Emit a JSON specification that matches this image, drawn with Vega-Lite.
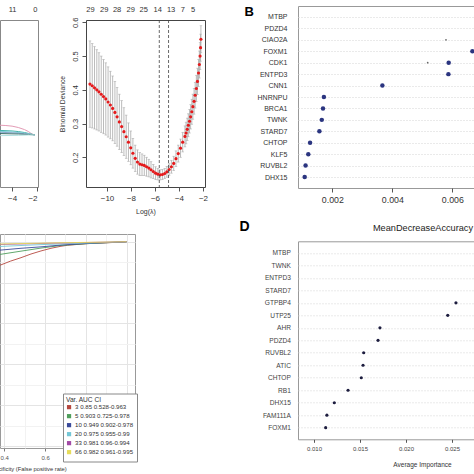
{
  "$schema": "https://vega.github.io/schema/vega-lite/v6.json",
  "padding": {"left": -26, "right": -4, "top": 4, "bottom": 0},
  "background": "white",
  "config": {
    "font": "Liberation Sans",
    "view": {"stroke": "#666"},
    "axis": {"labelFont": "Liberation Sans", "titleFont": "Liberation Sans", "labelColor": "#333", "titleColor": "#333", "tickColor": "#555", "titleFontWeight": "normal", "domain": false, "grid": false},
    "title": {"font": "Liberation Sans", "fontWeight": "normal"},
    "legend": {"symbolSize": 4, "symbolStrokeWidth": 2.2}
  },
  "datasets": {
    "coef": [
      {"l": -4.97, "v": 0.092, "g": "g1"}, {"l": -4.5, "v": 0.089, "g": "g1"}, {"l": -4.0, "v": 0.083, "g": "g1"}, {"l": -3.5, "v": 0.07, "g": "g1"}, {"l": -3.0, "v": 0.05, "g": "g1"}, {"l": -2.7, "v": 0.032, "g": "g1"}, {"l": -2.5, "v": 0.016, "g": "g1"}, {"l": -2.3, "v": 0.002, "g": "g1"}, {"l": -2.18, "v": 0, "g": "g1"},
      {"l": -4.97, "v": 0.042, "g": "g2"}, {"l": -4.0, "v": 0.037, "g": "g2"}, {"l": -3.5, "v": 0.031, "g": "g2"}, {"l": -3.0, "v": 0.022, "g": "g2"}, {"l": -2.6, "v": 0.011, "g": "g2"}, {"l": -2.3, "v": 0.002, "g": "g2"}, {"l": -2.18, "v": 0, "g": "g2"},
      {"l": -4.97, "v": 0.033, "g": "g3"}, {"l": -4.0, "v": 0.028, "g": "g3"}, {"l": -3.0, "v": 0.016, "g": "g3"}, {"l": -2.5, "v": 0.006, "g": "g3"}, {"l": -2.18, "v": 0, "g": "g3"},
      {"l": -4.97, "v": 0.024, "g": "g4"}, {"l": -4.0, "v": 0.02, "g": "g4"}, {"l": -3.0, "v": 0.011, "g": "g4"}, {"l": -2.5, "v": 0.004, "g": "g4"}, {"l": -2.18, "v": 0, "g": "g4"},
      {"l": -4.97, "v": 0.012, "g": "g5"}, {"l": -3.5, "v": 0.008, "g": "g5"}, {"l": -2.7, "v": 0.003, "g": "g5"}, {"l": -2.18, "v": 0, "g": "g5"},
      {"l": -4.97, "v": -0.008, "g": "g6"}, {"l": -3.5, "v": -0.005, "g": "g6"}, {"l": -2.6, "v": -0.001, "g": "g6"}, {"l": -2.18, "v": 0, "g": "g6"}
    ],
    "cv": [
      {"l": -11.42, "m": 0.417, "lo": 0.289, "hi": 0.545},
      {"l": -11.23, "m": 0.412, "lo": 0.287, "hi": 0.537},
      {"l": -11.04, "m": 0.406, "lo": 0.284, "hi": 0.528},
      {"l": -10.85, "m": 0.400, "lo": 0.281, "hi": 0.519},
      {"l": -10.67, "m": 0.394, "lo": 0.278, "hi": 0.510},
      {"l": -10.48, "m": 0.387, "lo": 0.274, "hi": 0.500},
      {"l": -10.29, "m": 0.380, "lo": 0.270, "hi": 0.490},
      {"l": -10.10, "m": 0.373, "lo": 0.266, "hi": 0.480},
      {"l": -9.91, "m": 0.364, "lo": 0.260, "hi": 0.468},
      {"l": -9.72, "m": 0.355, "lo": 0.255, "hi": 0.455},
      {"l": -9.53, "m": 0.345, "lo": 0.249, "hi": 0.441},
      {"l": -9.34, "m": 0.333, "lo": 0.241, "hi": 0.425},
      {"l": -9.16, "m": 0.320, "lo": 0.233, "hi": 0.407},
      {"l": -8.97, "m": 0.305, "lo": 0.223, "hi": 0.387},
      {"l": -8.78, "m": 0.291, "lo": 0.214, "hi": 0.368},
      {"l": -8.59, "m": 0.276, "lo": 0.205, "hi": 0.347},
      {"l": -8.40, "m": 0.261, "lo": 0.197, "hi": 0.325},
      {"l": -8.21, "m": 0.245, "lo": 0.188, "hi": 0.302},
      {"l": -8.02, "m": 0.228, "lo": 0.178, "hi": 0.278},
      {"l": -7.84, "m": 0.212, "lo": 0.168, "hi": 0.256},
      {"l": -7.65, "m": 0.197, "lo": 0.158, "hi": 0.236},
      {"l": -7.46, "m": 0.186, "lo": 0.150, "hi": 0.222},
      {"l": -7.27, "m": 0.180, "lo": 0.146, "hi": 0.214},
      {"l": -7.08, "m": 0.178, "lo": 0.146, "hi": 0.210},
      {"l": -6.89, "m": 0.176, "lo": 0.146, "hi": 0.206},
      {"l": -6.70, "m": 0.172, "lo": 0.144, "hi": 0.200},
      {"l": -6.51, "m": 0.168, "lo": 0.142, "hi": 0.194},
      {"l": -6.33, "m": 0.163, "lo": 0.139, "hi": 0.187},
      {"l": -6.14, "m": 0.158, "lo": 0.137, "hi": 0.179},
      {"l": -5.95, "m": 0.153, "lo": 0.134, "hi": 0.172},
      {"l": -5.76, "m": 0.150, "lo": 0.133, "hi": 0.167},
      {"l": -5.57, "m": 0.148, "lo": 0.133, "hi": 0.163},
      {"l": -5.38, "m": 0.149, "lo": 0.134, "hi": 0.164},
      {"l": -5.19, "m": 0.152, "lo": 0.137, "hi": 0.167},
      {"l": -5.01, "m": 0.157, "lo": 0.141, "hi": 0.173},
      {"l": -4.82, "m": 0.164, "lo": 0.147, "hi": 0.181},
      {"l": -4.63, "m": 0.172, "lo": 0.153, "hi": 0.191},
      {"l": -4.44, "m": 0.182, "lo": 0.161, "hi": 0.203},
      {"l": -4.25, "m": 0.196, "lo": 0.173, "hi": 0.219},
      {"l": -4.06, "m": 0.211, "lo": 0.186, "hi": 0.236},
      {"l": -3.87, "m": 0.227, "lo": 0.200, "hi": 0.254},
      {"l": -3.69, "m": 0.245, "lo": 0.216, "hi": 0.274},
      {"l": -3.50, "m": 0.262, "lo": 0.231, "hi": 0.293},
      {"l": -3.41, "m": 0.272, "lo": 0.240, "hi": 0.304},
      {"l": -3.31, "m": 0.283, "lo": 0.250, "hi": 0.316},
      {"l": -3.22, "m": 0.295, "lo": 0.261, "hi": 0.329},
      {"l": -3.12, "m": 0.307, "lo": 0.272, "hi": 0.342},
      {"l": -3.03, "m": 0.320, "lo": 0.284, "hi": 0.356},
      {"l": -2.93, "m": 0.335, "lo": 0.298, "hi": 0.372},
      {"l": -2.84, "m": 0.350, "lo": 0.313, "hi": 0.387},
      {"l": -2.74, "m": 0.366, "lo": 0.328, "hi": 0.404},
      {"l": -2.65, "m": 0.384, "lo": 0.346, "hi": 0.422},
      {"l": -2.55, "m": 0.404, "lo": 0.365, "hi": 0.443},
      {"l": -2.46, "m": 0.425, "lo": 0.386, "hi": 0.464},
      {"l": -2.37, "m": 0.450, "lo": 0.410, "hi": 0.490},
      {"l": -2.30, "m": 0.475, "lo": 0.435, "hi": 0.515},
      {"l": -2.24, "m": 0.500, "lo": 0.460, "hi": 0.540},
      {"l": -2.20, "m": 0.525, "lo": 0.485, "hi": 0.565},
      {"l": -2.17, "m": 0.550, "lo": 0.510, "hi": 0.590}
    ],
    "cvmin": [{"l": -5.64}, {"l": -4.87}],
    "roc": [
      {"fpr": 0.379, "tpr": 0.885, "var": "3 0.85 0.528-0.963"}, {"fpr": 0.43, "tpr": 0.905, "var": "3 0.85 0.528-0.963"}, {"fpr": 0.482, "tpr": 0.922, "var": "3 0.85 0.528-0.963"}, {"fpr": 0.531, "tpr": 0.94, "var": "3 0.85 0.528-0.963"}, {"fpr": 0.58, "tpr": 0.955, "var": "3 0.85 0.528-0.963"}, {"fpr": 0.629, "tpr": 0.968, "var": "3 0.85 0.528-0.963"}, {"fpr": 0.678, "tpr": 0.978, "var": "3 0.85 0.528-0.963"}, {"fpr": 0.711, "tpr": 0.983, "var": "3 0.85 0.528-0.963"}, {"fpr": 0.809, "tpr": 0.991, "var": "3 0.85 0.528-0.963"}, {"fpr": 0.923, "tpr": 0.996, "var": "3 0.85 0.528-0.963"}, {"fpr": 1.0, "tpr": 1.0, "var": "3 0.85 0.528-0.963"},
      {"fpr": 0.379, "tpr": 0.938, "var": "5 0.903 0.725-0.978"}, {"fpr": 0.482, "tpr": 0.954, "var": "5 0.903 0.725-0.978"}, {"fpr": 0.58, "tpr": 0.969, "var": "5 0.903 0.725-0.978"}, {"fpr": 0.678, "tpr": 0.982, "var": "5 0.903 0.725-0.978"}, {"fpr": 0.809, "tpr": 0.991, "var": "5 0.903 0.725-0.978"}, {"fpr": 1.0, "tpr": 1.0, "var": "5 0.903 0.725-0.978"},
      {"fpr": 0.379, "tpr": 0.959, "var": "10 0.949 0.902-0.978"}, {"fpr": 0.482, "tpr": 0.968, "var": "10 0.949 0.902-0.978"}, {"fpr": 0.58, "tpr": 0.975, "var": "10 0.949 0.902-0.978"}, {"fpr": 0.678, "tpr": 0.984, "var": "10 0.949 0.902-0.978"}, {"fpr": 0.809, "tpr": 0.992, "var": "10 0.949 0.902-0.978"}, {"fpr": 1.0, "tpr": 1.0, "var": "10 0.949 0.902-0.978"},
      {"fpr": 0.379, "tpr": 0.977, "var": "20 0.975 0.955-0.99"}, {"fpr": 0.58, "tpr": 0.986, "var": "20 0.975 0.955-0.99"}, {"fpr": 0.809, "tpr": 0.994, "var": "20 0.975 0.955-0.99"}, {"fpr": 1.0, "tpr": 1.0, "var": "20 0.975 0.955-0.99"},
      {"fpr": 0.379, "tpr": 0.987, "var": "33 0.981 0.96-0.994"}, {"fpr": 0.678, "tpr": 0.994, "var": "33 0.981 0.96-0.994"}, {"fpr": 1.0, "tpr": 1.0, "var": "33 0.981 0.96-0.994"},
      {"fpr": 0.379, "tpr": 0.989, "var": "66 0.982 0.961-0.995"}, {"fpr": 0.678, "tpr": 0.995, "var": "66 0.982 0.961-0.995"}, {"fpr": 1.0, "tpr": 1.0, "var": "66 0.982 0.961-0.995"}
    ],
    "impB": [
      {"gene": "MTBP", "v": 0.0080}, {"gene": "PDZD4", "v": 0.0076}, {"gene": "CIAO2A", "v": 0.0072}, {"gene": "FOXM1", "v": 0.00667},
      {"gene": "CDK1", "v": 0.00588}, {"gene": "ENTPD3", "v": 0.00587}, {"gene": "CNN1", "v": 0.00367}, {"gene": "HNRNPU", "v": 0.00172},
      {"gene": "BRCA1", "v": 0.00169}, {"gene": "TWNK", "v": 0.00165}, {"gene": "STARD7", "v": 0.00157}, {"gene": "CHTOP", "v": 0.00126},
      {"gene": "KLF5", "v": 0.0012}, {"gene": "RUVBL2", "v": 0.00111}, {"gene": "DHX15", "v": 0.00108}
    ],
    "impBsmall": [{"gene": "CIAO2A", "v": 0.00579}, {"gene": "CDK1", "v": 0.00518}],
    "impD": [
      {"gene": "MTBP", "v": 0.036}, {"gene": "TWNK", "v": 0.033}, {"gene": "ENTPD3", "v": 0.031}, {"gene": "STARD7", "v": 0.029},
      {"gene": "GTPBP4", "v": 0.02543}, {"gene": "UTP25", "v": 0.02454}, {"gene": "AHR", "v": 0.01717}, {"gene": "PDZD4", "v": 0.01696},
      {"gene": "RUVBL2", "v": 0.0154}, {"gene": "ATIC", "v": 0.01533}, {"gene": "CHTOP", "v": 0.01514}, {"gene": "RB1", "v": 0.0137},
      {"gene": "DHX15", "v": 0.01221}, {"gene": "FAM111A", "v": 0.0114}, {"gene": "FOXM1", "v": 0.01127}
    ],
    "blank": []
  },
  "spacing": 29,
  "resolve": {"scale": {"color": "independent"}},
  "hconcat": [
    {
      "spacing": 18,
      "resolve": {"scale": {"color": "independent"}},
      "vconcat": [
        {
          "spacing": -2,
          "vconcat": [
            {
              "width": 1, "height": 1,
              "view": {"stroke": null},
              "data": {"name": "blank"},
              "mark": {"type": "point", "opacity": 0},
              "encoding": {}
            },
            {
              "spacing": 19,
              "hconcat": [
                {
                  "width": 38, "height": 167,
                  "view": {"stroke": "#888"},
                  "data": {"name": "coef"},
                  "layer": [
                    {
                      "mark": {"type": "line", "strokeWidth": 1, "clip": true},
                      "encoding": {
                        "x": {"field": "l", "type": "quantitative", "scale": {"domain": [-4.97, -1.92], "nice": false, "zero": false},
                              "axis": {"values": [-4, -2], "tickSize": 4, "labelPadding": 3, "labelFontSize": 8, "title": null}},
                        "y": {"field": "v", "type": "quantitative", "scale": {"domain": [-0.5, 1.1], "nice": false, "zero": false},
                              "axis": {"labels": false, "ticks": false, "title": null, "minExtent": 25, "maxExtent": 25}},
                        "color": {"field": "g", "type": "nominal", "legend": null,
                                  "scale": {"domain": ["g1", "g2", "g3", "g4", "g5", "g6"], "range": ["#e39bb5", "#3fb0a8", "#7fd0d8", "#8aa6c8", "#3a6e6a", "#b0e0e0"]}}
                      }
                    },
                    {
                      "mark": {"type": "point", "opacity": 0},
                      "encoding": {
                        "x": {"field": "l", "type": "quantitative", "scale": {"domain": [-4.97, -1.92], "nice": false, "zero": false},
                              "axis": {"orient": "top", "values": [-4, -2], "ticks": false, "labelPadding": 6.5, "labelFontSize": 7.5, "title": null, "labelExpr": "datum.value < -3 ? '11' : '0'"}},
                        "y": {"field": "v", "type": "quantitative", "scale": {"domain": [-0.5, 1.1], "nice": false, "zero": false},
                              "axis": {"labels": false, "ticks": false, "title": null, "minExtent": 25, "maxExtent": 25}}
                      }
                    }
                  ],
                  "resolve": {"axis": {"x": "independent"}}
                },
                {
                  "width": 119, "height": 167,
                  "view": {"stroke": "#444"},
                  "layer": [
                    {
                      "data": {"name": "cv"},
                      "mark": {"type": "errorbar", "color": "#a9a9a9", "thickness": 0.8, "ticks": {"size": 2.5, "color": "#a9a9a9"}},
                      "encoding": {
                        "x": {"field": "l", "type": "quantitative", "scale": {"domain": [-11.75, -1.83], "nice": false, "zero": false},
                              "axis": {"values": [-10, -8, -6, -4, -2], "tickSize": 4, "labelPadding": 3, "labelFontSize": 8, "title": "Log(λ)", "titleFontSize": 7, "titlePadding": 5}},
                        "y": {"field": "lo", "type": "quantitative", "scale": {"domain": [0.112, 0.607], "nice": false, "zero": false},
                              "axis": {"values": [0.2, 0.3, 0.4, 0.5, 0.6], "format": ".1f", "title": "Binomial Deviance", "labelAngle": -90, "labelAlign": "center", "labelBaseline": "bottom", "tickSize": 4, "labelPadding": 3, "labelFontSize": 7.5, "titleFontSize": 6.8, "titlePadding": 6}},
                        "y2": {"field": "hi"}
                      }
                    },
                    {
                      "data": {"name": "cv"},
                      "mark": {"type": "circle", "size": 10, "color": "#e41a1c", "opacity": 1},
                      "encoding": {
                        "x": {"field": "l", "type": "quantitative", "scale": {"domain": [-11.75, -1.83], "nice": false, "zero": false},
                              "axis": {"orient": "top", "values": [-11.42, -10.28, -9.2, -8.06, -6.98, -5.81, -4.7, -3.72, -2.86], "ticks": false, "labelPadding": 6.5, "labelFontSize": 7.5, "title": null,
                                       "labelExpr": "datum.value < -11 ? '29' : datum.value < -10 ? '29' : datum.value < -9 ? '28' : datum.value < -7.5 ? '29' : datum.value < -6.5 ? '25' : datum.value < -5.5 ? '14' : datum.value < -4.2 ? '13' : datum.value < -3.3 ? '7' : '5'"}},
                        "y": {"field": "m", "type": "quantitative", "scale": {"domain": [0.112, 0.607], "nice": false, "zero": false},
                              "axis": {"values": [0.2, 0.3, 0.4, 0.5, 0.6], "format": ".1f", "title": "Binomial Deviance", "labelAngle": -90, "labelAlign": "center", "labelBaseline": "bottom", "tickSize": 4, "labelPadding": 3, "labelFontSize": 7.5, "titleFontSize": 6.8, "titlePadding": 6}}
                      }
                    },
                    {
                      "data": {"name": "cvmin"},
                      "mark": {"type": "rule", "strokeDash": [3, 2], "color": "#444", "strokeWidth": 0.8},
                      "encoding": {
                        "x": {"field": "l", "type": "quantitative", "scale": {"domain": [-11.75, -1.83], "nice": false, "zero": false}, "axis": null}
                      }
                    }
                  ],
                  "resolve": {"axis": {"x": "independent"}}
                }
              ]
            }
          ]
        },
        {
          "width": 135, "height": 214,
          "view": {"stroke": "#999"},
          "data": {"name": "roc"},
          "mark": {"type": "line", "strokeWidth": 0.9, "clip": true},
          "encoding": {
            "x": {"field": "fpr", "type": "quantitative", "scale": {"domain": [0.379, 1.041], "nice": false, "zero": false},
                  "axis": {"values": [0.4, 0.5, 0.6, 0.7, 0.8, 0.9, 1.0], "format": ".1f", "grid": true,
                           "gridColor": {"condition": {"test": "round(datum.value * 10) % 2 == 0", "value": "#e4e4e4"}, "value": "#f2f2f2"},
                           "tickOpacity": {"condition": {"test": "round(datum.value * 10) % 2 == 0", "value": 1}, "value": 0},
                           "labelExpr": "round(datum.value * 10) % 2 == 0 ? datum.label : ''",
                           "tickSize": 3, "tickColor": "#777", "labelFontSize": 6, "labelPadding": 3.5, "labelColor": "#555",
                           "title": "1 - Specificity (False positive rate)", "titleFontSize": 5.8, "titleX": 22.7, "titlePadding": 4.5}},
            "y": {"field": "tpr", "type": "quantitative", "scale": {"domain": [-0.01, 1.038], "nice": false, "zero": false},
                  "axis": {"values": [0, 0.1, 0.2, 0.3, 0.4, 0.5, 0.6, 0.7, 0.8, 0.9, 1.0], "grid": true,
                           "gridColor": {"condition": {"test": "round(datum.value * 10) % 2 == 0", "value": "#e4e4e4"}, "value": "#f2f2f2"},
                           "labels": false, "ticks": false, "title": null, "minExtent": 25, "maxExtent": 25}},
            "color": {"field": "var", "type": "nominal",
                      "scale": {"domain": ["3 0.85 0.528-0.963", "5 0.903 0.725-0.978", "10 0.949 0.902-0.978", "20 0.975 0.955-0.99", "33 0.981 0.96-0.994", "66 0.982 0.961-0.995"],
                                "range": ["#b5483f", "#4f9e5c", "#3a4a9a", "#74c7d6", "#a24aa6", "#e6dc5a"]},
                      "legend": {"title": "Var. AUC CI", "orient": "none", "legendX": 63, "legendY": 159.5, "padding": 3, "fillColor": "white", "strokeColor": "#888",
                                 "symbolType": "square", "symbolSize": 4, "symbolStrokeWidth": 2.2, "labelFontSize": 6.1, "titleFontSize": 6.6, "titleFontWeight": "normal",
                                 "rowPadding": -8.5, "titlePadding": 1, "labelOffset": 3, "labelColor": "#333", "titleColor": "#333"}}
          }
        }
      ]
    },
    {
      "spacing": 13.3,
      "vconcat": [
        {
          "width": 180, "height": 182,
          "view": {"stroke": "#999"},
          "layer": [
            {
              "data": {"name": "impB"},
              "mark": {"type": "circle", "size": 20, "color": "#2b3580", "opacity": 1, "clip": true},
              "encoding": {
                "x": {"field": "v", "type": "quantitative", "scale": {"domain": [0.000857, 0.006857], "nice": false, "zero": false},
                      "axis": {"values": [0.002, 0.004, 0.006], "format": ".3f", "tickSize": 4, "labelPadding": 3.5, "labelFontSize": 8.8, "title": null}},
                "y": {"field": "gene", "type": "nominal", "sort": null,
                      "scale": {"type": "point", "padding": 0.96, "domain": ["MTBP", "PDZD4", "CIAO2A", "FOXM1", "CDK1", "ENTPD3", "CNN1", "HNRNPU", "BRCA1", "TWNK", "STARD7", "CHTOP", "KLF5", "RUVBL2", "DHX15"]},
                      "axis": {"ticks": false, "grid": true, "gridColor": "#d4d4d4", "gridDash": [1, 2], "labelFontSize": 7, "labelPadding": 11, "labelColor": "#333",
                               "title": "B", "titleAngle": 0, "titleX": -54, "titleY": 5, "titleAlign": "left", "titleBaseline": "middle", "titleFontSize": 13, "titleFontWeight": "bold", "titleColor": "#000"}}
              }
            },
            {
              "data": {"name": "impBsmall"},
              "mark": {"type": "circle", "size": 3, "color": "#666", "opacity": 1, "clip": true},
              "encoding": {
                "x": {"field": "v", "type": "quantitative"},
                "y": {"field": "gene", "type": "nominal", "sort": null}
              }
            }
          ]
        },
        {
          "width": 178, "height": 198,
          "view": {"stroke": "#999"},
          "title": {"text": "MeanDecreaseAccuracy", "fontSize": 9.2, "fontWeight": "normal", "color": "#222", "dx": 36, "offset": -13.4, "frame": "group"},
          "data": {"name": "impD"},
          "mark": {"type": "circle", "size": 10, "color": "#1d1d3f", "opacity": 1, "clip": true},
          "encoding": {
            "x": {"field": "v", "type": "quantitative", "scale": {"domain": [0.00826, 0.02761], "nice": false, "zero": false},
                  "axis": {"values": [0.010, 0.015, 0.020, 0.025], "format": ".3f", "tickSize": 3, "labelPadding": 3, "labelFontSize": 6, "labelColor": "#444",
                           "title": "Average Importance", "titleFontSize": 6.5, "titleX": 124, "titlePadding": 10}},
            "y": {"field": "gene", "type": "nominal", "sort": null,
                  "scale": {"type": "point", "padding": 0.93, "domain": ["MTBP", "TWNK", "ENTPD3", "STARD7", "GTPBP4", "UTP25", "AHR", "PDZD4", "RUVBL2", "ATIC", "CHTOP", "RB1", "DHX15", "FAM111A", "FOXM1"]},
                  "axis": {"ticks": false, "grid": true, "gridColor": "#d4d4d4", "gridDash": [1, 2], "labelFontSize": 6.6, "labelPadding": 7.6, "labelColor": "#444",
                           "title": "D", "titleAngle": 0, "titleX": -59, "titleY": -15, "titleAlign": "left", "titleBaseline": "middle", "titleFontSize": 14, "titleFontWeight": "bold", "titleColor": "#000"}}
          }
        }
      ]
    }
  ]
}
